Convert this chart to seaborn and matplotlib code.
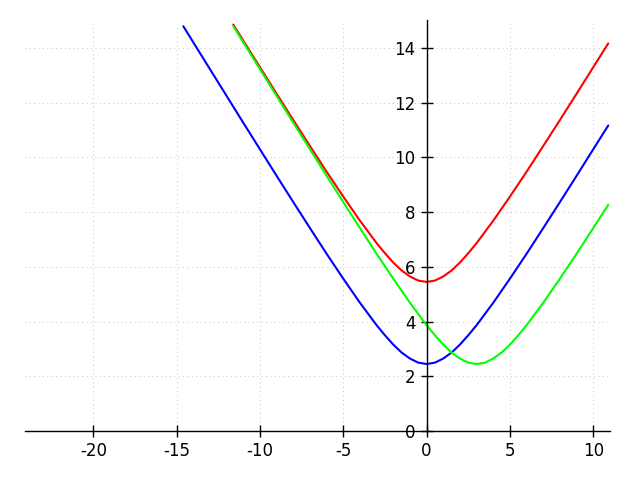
import matplotlib
matplotlib.use("Agg")
import matplotlib.pyplot as plt
import seaborn as sns

# values
blue_x = [-14.6, -14, -13, -12, -11, -10, -9, -8, -7, -6, -5, -4, -3, -2.5, -2, -1.5, -1, -0.5,
          0, 0.5, 1, 1.5, 2, 2.5, 3, 4, 5, 6, 7, 8, 9, 10, 10.9]
blue_y = [14.80, 14.21, 13.23, 12.25, 11.27, 10.30, 9.33, 8.37, 7.42, 6.48, 5.57, 4.69, 3.87, 3.50, 3.16, 2.87, 2.65, 2.50,
          2.45, 2.50, 2.65, 2.87, 3.16, 3.50, 3.87, 4.69, 5.57, 6.48, 7.42, 8.37, 9.33, 10.30, 11.17]

red_x = [-11.6, -11, -10, -9, -8, -7, -6, -5, -4, -3, -2.5, -2, -1.5, -1, -0.5,
         0, 0.5, 1, 1.5, 2, 2.5, 3, 4, 5, 6, 7, 8, 9, 10, 10.9]
red_y = [14.86, 14.27, 13.30, 12.33, 11.37, 10.42, 9.48, 8.57, 7.69, 6.87, 6.50, 6.16, 5.87, 5.65, 5.50,
         5.45, 5.50, 5.65, 5.87, 6.16, 6.50, 6.87, 7.69, 8.57, 9.48, 10.42, 11.37, 12.33, 13.30, 14.17]

green_x = [-11.6, -11, -10, -9, -8, -7, -6, -5, -4, -3, -2, -1, 0, 0.5, 1, 1.5, 2, 2.5,
           3, 3.5, 4, 4.5, 5, 5.5, 6, 7, 8, 9, 10, 10.9]
green_y = [14.80, 14.21, 13.23, 12.25, 11.27, 10.30, 9.33, 8.37, 7.42, 6.48, 5.57, 4.69, 3.87, 3.50, 3.16, 2.87, 2.65, 2.50,
           2.45, 2.50, 2.65, 2.87, 3.16, 3.50, 3.87, 4.69, 5.57, 6.48, 7.42, 8.27]

x_ticks = [-20, -15, -10, -5, 0, 5, 10]
y_ticks = [0, 2, 4, 6, 8, 10, 12, 14]

sns.set_style("white")
plt.rcParams["font.family"] = ["DejaVu Sans"]
fig, ax = plt.subplots(figsize=(6.4, 4.8), dpi=100)
fig.subplots_adjust(left=0.039, right=0.953, bottom=0.102, top=0.958)

sns.lineplot(x=red_x, y=red_y, color="#ff0000", lw=1.5, sort=False, ax=ax)
sns.lineplot(x=blue_x, y=blue_y, color="#0000ff", lw=1.5, sort=False, ax=ax)
sns.lineplot(x=green_x, y=green_y, color="#00ff00", lw=1.5, sort=False, ax=ax)

ax.set_xlim(-24.1, 11)
ax.set_ylim(0, 15.02)
ax.set_xticks(x_ticks)
ax.set_yticks(y_ticks)
ax.set_xticklabels([str(t) for t in x_ticks])
ax.set_yticklabels([str(t) for t in y_ticks])

ax.spines["left"].set_position(("data", 0))
ax.spines["bottom"].set_position(("data", 0))
ax.spines["top"].set_visible(False)
ax.spines["right"].set_visible(False)
for s in ("left", "bottom"):
    ax.spines[s].set_color("black")
    ax.spines[s].set_linewidth(1)

ax.tick_params(direction="inout", length=8, width=1, color="black", labelcolor="black",
               labelsize=12, left=True, bottom=True, pad=4)
ax.grid(True, color="#c4c4c4", linestyle=(0, (1, 3.5)), linewidth=0.7)
ax.set_axisbelow(True)

fig.savefig("out.png", dpi=100)
